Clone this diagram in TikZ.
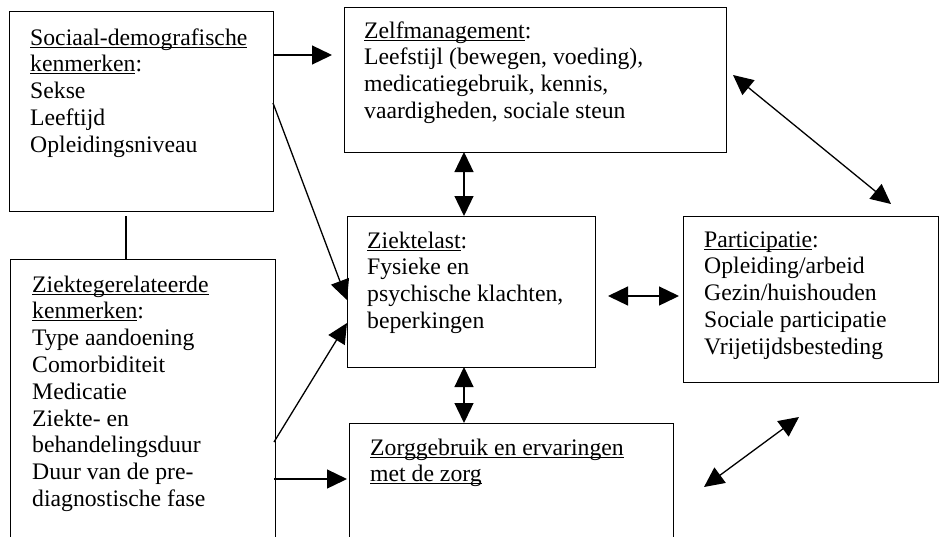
\documentclass[tikz,border=0pt]{standalone}
\usepackage{fontspec}
\setmainfont{Liberation Serif}
\usetikzlibrary{arrows.meta}
\newcommand\ulw[1]{\setbox0=\hbox{#1}\rlap{\rule[-2.6pt]{\wd0}{1.1pt}}\box0}
\newcommand\txtlines[1]{\begin{tabular}[t]{@{}l@{}}#1\end{tabular}}
\begin{document}
\begin{tikzpicture}[x=1pt,y=-1pt,
  box/.style={draw,line width=1.3pt,anchor=north west,inner sep=0pt},
  lbl/.style={anchor=base west,inner sep=0pt,font=\fontsize{23.7}{26.8}\selectfont},
  conn/.style={line width=1.3pt},
  arr/.style={conn,-{Triangle[length=20pt,width=19pt]}},
  darr/.style={conn,{Triangle[length=20pt,width=19pt]}-{Triangle[length=20pt,width=19pt]}}]
\useasboundingbox (0,0) rectangle (939,536);
% boxes
\node[box,minimum width=264pt,minimum height=200pt] (soc) at (9,11) {};
\node[box,minimum width=265pt,minimum height=290pt] (ziek) at (10,259) {};
\node[box,minimum width=382pt,minimum height=145pt] (zelf) at (344,7) {};
\node[box,minimum width=248pt,minimum height=151pt] (last) at (347,216) {};
\node[box,minimum width=254.5pt,minimum height=166pt] (part) at (683,216) {};
\node[box,minimum width=324pt,minimum height=130pt] (zorg) at (349,423) {};
% texts
\node[lbl] (tsoc) at (30,45) {\txtlines{\ulw{Sociaal-demografische}\\\ulw{kenmerken}:\\Sekse\\Leeftijd\\Opleidingsniveau}};
\node[lbl] (tziek) at (32,292) {\txtlines{\ulw{Ziektegerelateerde}\\\ulw{kenmerken}:\\Type aandoening\\Comorbiditeit\\Medicatie\\Ziekte- en\\behandelingsduur\\Duur van de pre-\\diagnostische fase}};
\node[lbl] (tzelf) at (364,38) {\txtlines{\ulw{Zelfmanagement}:\\Leefstijl (bewegen, voeding),\\medicatiegebruik, kennis,\\vaardigheden, sociale steun}};
\node[lbl] (tlast) at (367,248) {\txtlines{\ulw{Ziektelast}:\\Fysieke en\\psychische klachten,\\beperkingen}};
\node[lbl] (tpart) at (704,247) {\txtlines{\ulw{Participatie}:\\Opleiding/arbeid\\Gezin/huishouden\\Sociale participatie\\Vrijetijdsbesteding}};
\node[lbl] (tzorg) at (370,455) {\txtlines{\ulw{Zorggebruik en ervaringen}\\\ulw{met de zorg}}};
% connector end points
\coordinate (a1s) at (273,55);   \coordinate (a1e) at (332,55);
\coordinate (a2s) at (273,103);  \coordinate (a2e) at (347,300);
\coordinate (a3s) at (274,442);  \coordinate (a3e) at (347,323);
\coordinate (a4s) at (274,479);  \coordinate (a4e) at (347,479);
\coordinate (a5s) at (464,152);  \coordinate (a5e) at (464,216);
\coordinate (a6s) at (464,367);  \coordinate (a6e) at (464,423);
\coordinate (a7s) at (608,296);  \coordinate (a7e) at (679,296);
\coordinate (a8s) at (733,75);   \coordinate (a8e) at (891,204);
\coordinate (a9s) at (704,487);  \coordinate (a9e) at (799,417);
\coordinate (l1s) at (126,216);
% connectors
\draw[conn] (l1s) -- (l1s |- ziek.north);
\draw[arr] (a1s) -- (a1e);
\draw[arr] (a2s) -- (a2e);
\draw[arr] (a3s) -- (a3e);
\draw[arr] (a4s) -- (a4e);
\draw[darr] (a5s) -- (a5e);
\draw[darr] (a6s) -- (a6e);
\draw[darr] (a7s) -- (a7e);
\draw[darr] (a8s) -- (a8e);
\draw[darr] (a9s) -- (a9e);
\end{tikzpicture}
\end{document}
